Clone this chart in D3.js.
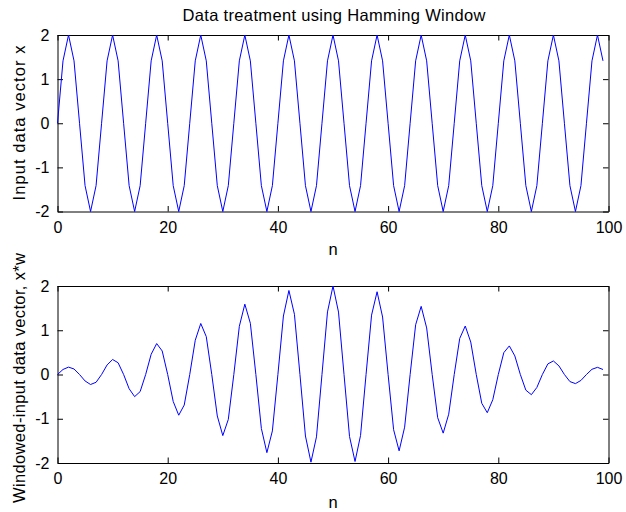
<!DOCTYPE html>
<html>
<head>
<meta charset="utf-8">
<script src="https://cdn.jsdelivr.net/npm/d3@7"></script>
<style>
  body { margin: 0; background: #fff; }
  svg text { font-family: "Liberation Sans", Arial, sans-serif; fill: #000; }
</style>
</head>
<body>
<div id="chart"></div>
<script>
// sample index n = 0..99
var nValues = d3.range(0, 100);

// input data vector x
var inputX = [
  0, 1.414, 2, 1.414, 0, -1.414, -2, -1.414,
  0, 1.414, 2, 1.414, 0, -1.414, -2, -1.414,
  0, 1.414, 2, 1.414, 0, -1.414, -2, -1.414,
  0, 1.414, 2, 1.414, 0, -1.414, -2, -1.414,
  0, 1.414, 2, 1.414, 0, -1.414, -2, -1.414,
  0, 1.414, 2, 1.414, 0, -1.414, -2, -1.414,
  0, 1.414, 2, 1.414, 0, -1.414, -2, -1.414,
  0, 1.414, 2, 1.414, 0, -1.414, -2, -1.414,
  0, 1.414, 2, 1.414, 0, -1.414, -2, -1.414,
  0, 1.414, 2, 1.414, 0, -1.414, -2, -1.414,
  0, 1.414, 2, 1.414, 0, -1.414, -2, -1.414,
  0, 1.414, 2, 1.414, 0, -1.414, -2, -1.414,
  0, 1.414, 2, 1.414
];

// windowed input x*w
var windowedX = [
  0, 0.114, 0.167, 0.125, 0, -0.146, -0.226, -0.176,
  0, 0.216, 0.339, 0.265, 0, -0.322, -0.500, -0.386,
  0, 0.457, 0.699, 0.532, 0, -0.610, -0.920, -0.691,
  0, 0.774, 1.153, 0.856, 0, -0.937, -1.381, -1.015,
  0, 1.089, 1.590, 1.158, 0, -1.220, -1.766, -1.275,
  0, 1.322, 1.899, 1.361, 0, -1.390, -1.981, -1.409,
  0, 1.414, 2.000, 1.411, 0, -1.401, -1.966, -1.376,
  0, 1.342, 1.870, 1.299, 0, -1.248, -1.725, -1.190,
  0, 1.124, 1.540, 1.052, 0, -0.976, -1.325, -0.897,
  0, 0.815, 1.095, 0.733, 0, -0.651, -0.863, -0.570,
  0, 0.494, 0.646, 0.420, 0, -0.354, -0.456, -0.293,
  0, 0.240, 0.306, 0.195, 0, -0.160, -0.206, -0.134,
  0, 0.118, 0.162, 0.113
];

var xTicks = [0, 20, 40, 60, 80, 100];
var yTicks = [-2, -1, 0, 1, 2];

var titleText = "Data treatment using Hamming Window";

var width = 626, height = 512;

var svg = d3.select("#chart").append("svg")
  .attr("width", width)
  .attr("height", height);

svg.append("text")
  .attr("x", 334)
  .attr("y", 21)
  .attr("text-anchor", "middle")
  .attr("textLength", 303)
  .attr("lengthAdjust", "spacing")
  .style("font-size", "16.5px")
  .text(titleText);

// plain hyphen minus, like the original
var fmt = function(d) { return String(d); };

function drawPanel(top, bottom, values, yLabel, labelCenter, labelLen, nOffset) {
  var left = 57.5, right = 608.5;

  var x = d3.scaleLinear().domain([0, 100]).range([left, right]);
  var y = d3.scaleLinear().domain([-2, 2]).range([bottom, top]);

  var g = svg.append("g");

  // MATLAB-like inward ticks on all four sides
  var tickLen = 5.5;
  var xAxisBottom = d3.axisBottom(x).tickValues(xTicks).tickFormat(fmt).tickSizeInner(-tickLen).tickSizeOuter(0).tickPadding(10);
  var xAxisTop = d3.axisTop(x).tickValues(xTicks).tickSizeInner(-tickLen).tickSizeOuter(0).tickFormat("");
  var yAxisLeft = d3.axisLeft(y).tickValues(yTicks).tickFormat(fmt).tickSizeInner(-tickLen).tickSizeOuter(0).tickPadding(8);
  var yAxisRight = d3.axisRight(y).tickValues(yTicks).tickSizeInner(-tickLen).tickSizeOuter(0).tickFormat("");

  g.append("g").attr("transform", "translate(0," + bottom + ")").call(xAxisBottom);
  g.append("g").attr("transform", "translate(0," + top + ")").call(xAxisTop);
  g.append("g").attr("transform", "translate(" + left + ",0)").call(yAxisLeft);
  g.append("g").attr("transform", "translate(" + right + ",0)").call(yAxisRight);

  g.selectAll(".domain").attr("stroke", "#000").attr("stroke-width", 1);
  g.selectAll(".tick line").attr("stroke", "#000");
  g.selectAll(".tick text")
    .style("font-size", "16px")
    .style("font-family", "'Liberation Sans', Arial, sans-serif")
    .attr("fill", "#000");

  var line = d3.line()
    .x(function(d, i) { return x(nValues[i]); })
    .y(function(d) { return y(d); });

  g.append("path")
    .datum(values)
    .attr("fill", "none")
    .attr("stroke", "#0000ff")
    .attr("stroke-width", 1)
    .attr("d", line);

  g.append("text")
    .attr("x", (left + right) / 2)
    .attr("y", bottom + nOffset)
    .attr("text-anchor", "middle")
    .style("font-size", "16.5px")
    .text("n");

  g.append("text")
    .attr("transform", "translate(25," + labelCenter + ") rotate(-90)")
    .attr("text-anchor", "middle")
    .attr("textLength", labelLen)
    .attr("lengthAdjust", "spacing")
    .style("font-size", "16.5px")
    .text(yLabel);
}

drawPanel(35, 211.5, inputX, "Input data vector x", 123, 155, 43);
drawPanel(286, 463, windowedX, "Windowed-input data vector, x*w", 378, 250, 45);
</script>
</body>
</html>
